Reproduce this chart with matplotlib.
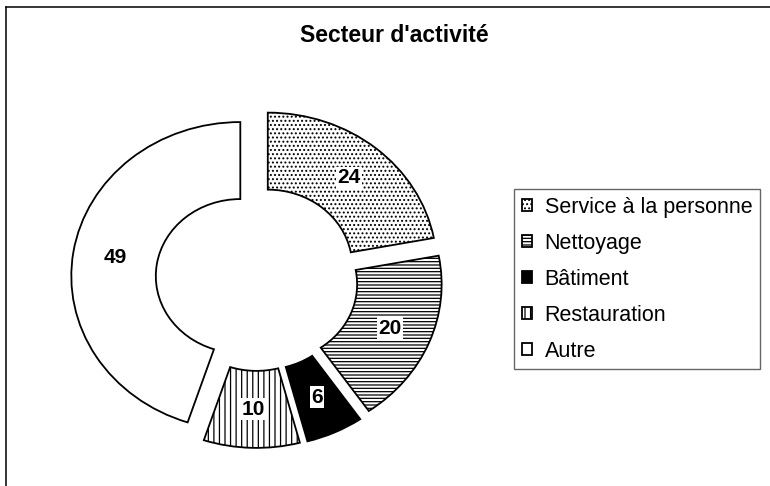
import matplotlib
matplotlib.use("Agg")
import matplotlib.pyplot as plt
from matplotlib.lines import Line2D

title = "Secteur d'activité"
categories = ["Service à la personne", "Nettoyage", "Bâtiment", "Restauration", "Autre"]
values = [24, 20, 6, 10, 49]
face_colors = ["white", "white", "black", "white", "white"]
hatches = ["....", "-----", None, "|||", None]

plt.rcParams['font.family'] = ['Liberation Sans', 'DejaVu Sans']
plt.rcParams['hatch.linewidth'] = 0.9

W, H = 770, 486
fig = plt.figure(figsize=(W / 100, H / 100), dpi=100)
ax = fig.add_axes([0, 0, 1, 1])

total = sum(values)
wedges, texts, autotexts = ax.pie(
    values,
    explode=[0.1] * len(values),
    startangle=90,
    counterclock=False,
    radius=1,
    colors=face_colors,
    wedgeprops=dict(width=0.5, edgecolor="black", linewidth=1.3),
    autopct=lambda p: f"{round(p * total / 100)}",
    pctdistance=0.75,
    textprops=dict(fontsize=15, fontweight="bold", color="black"),
)
for w, h in zip(wedges, hatches):
    if h:
        w.set_hatch(h)
for t in autotexts:
    t.set_bbox(dict(facecolor="white", edgecolor="none", pad=1.0))

# map data to pixels: center (257, 278.5), rx=169 px, ry=154 px
cx, cy, rx, ry = 257, 278.5, 169, 154
ax.set_aspect("auto")
ax.set_xlim(-cx / rx, (W - cx) / rx)
ax.set_ylim(-(H - cy) / ry, cy / ry)
ax.axis("off")

fig.text(394 / W, 1 - 35 / H, title, ha="center", va="center",
         fontsize=16.5, fontweight="bold")

leg = ax.legend(wedges, categories, loc="upper left",
                bbox_to_anchor=(514 / W, 1 - 189 / H), bbox_transform=fig.transFigure,
                borderaxespad=0, fontsize=15.5, frameon=True, fancybox=False,
                handlelength=0.47, handleheight=0.47, handletextpad=0.6,
                labelspacing=0.7, borderpad=0.35)
leg.get_frame().set_edgecolor("#404040")
leg.get_frame().set_linewidth(1.0)

# outer frame (top and left edges visible)
fig.add_artist(Line2D([6.5 / W, 1], [1 - 7.5 / H, 1 - 7.5 / H],
                      transform=fig.transFigure, color="black", linewidth=1.1))
fig.add_artist(Line2D([6.5 / W, 6.5 / W], [0, 1 - 7.5 / H],
                      transform=fig.transFigure, color="black", linewidth=1.1))

fig.savefig("out.png", dpi=100, facecolor="white")
